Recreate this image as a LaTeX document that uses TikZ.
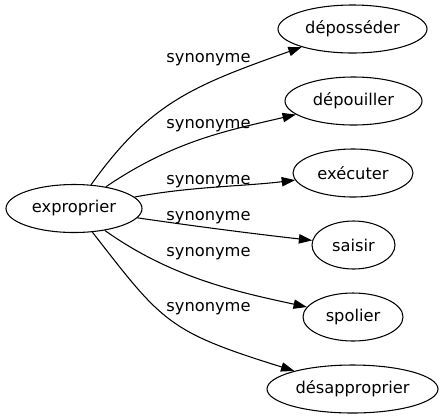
\documentclass[tikz,border=0pt]{standalone}
\usepackage{fontspec}
\setmainfont{DejaVu Sans}
\usetikzlibrary{shapes.geometric,arrows.meta}
\begin{document}
\begin{tikzpicture}[x=0.75pt,y=-0.75pt,
  every node/.style={font=\fontsize{12.2pt}{14pt}\selectfont},
  word/.style={draw=black,line width=0.8pt,ellipse,inner sep=0pt,minimum height=36pt},
  lbl/.style={anchor=base,inner sep=0pt},
  edge/.style={draw=black,line width=0.8pt,-{Triangle[length=10pt,width=7pt]}}]
\useasboundingbox (0,0) rectangle (445,419);
\node[word,minimum width=102pt] (src) at (74,208.5) {exproprier};
\node[word,minimum width=111.75pt] (t1) at (352.5,29) {déposséder};
\node[word,minimum width=102.75pt] (t2) at (353.5,101) {dépouiller};
\node[word,minimum width=90pt] (t3) at (353,173) {exécuter};
\node[word,minimum width=62.25pt] (t4) at (353.5,245) {saisir};
\node[word,minimum width=75pt] (t5) at (353,317) {spolier};
\node[word,minimum width=128.25pt] (t6) at (352.5,389) {désapproprier};
\draw[edge] (src) .. controls (149.6,103) and (192,86) .. (t1);
\draw[edge] (src) .. controls (174.7,140) and (230,130) .. (t2);
\draw[edge] (src) .. controls (190.2,186.5) and (244.4,186.3) .. (t3);
\draw[edge] (src) .. controls (193.8,226.1) and (253.7,233.8) .. (t4);
\draw[edge] (src) .. controls (171.7,278) and (237.4,291.9) .. (t5);
\draw[edge] (src) .. controls (162.7,322.5) and (167.6,331.5) .. (t6);
\node[lbl] (l1) at (208.5,62.7) {synonyme};
\node[lbl] (l2) at (208.5,128.3) {synonyme};
\node[lbl] (l3) at (208.5,184.3) {synonyme};
\node[lbl] (l4) at (208.5,220) {synonyme};
\node[lbl] (l5) at (208.5,256.7) {synonyme};
\node[lbl] (l6) at (208.5,311.7) {synonyme};
\end{tikzpicture}
\end{document}
